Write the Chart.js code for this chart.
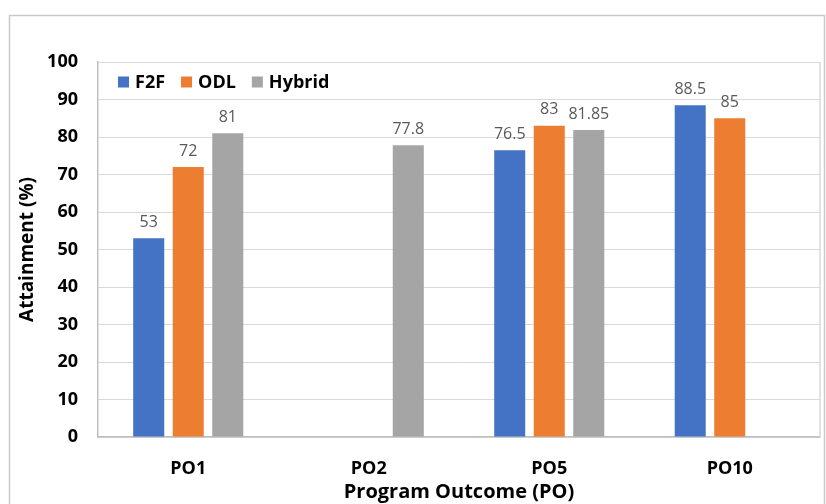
<!DOCTYPE html>
<html>
<head>
<meta charset="utf-8">
<script src="https://cdn.jsdelivr.net/npm/chart.js@4.4.1/dist/chart.umd.min.js"></script>
<style>
  body { margin: 0; background: #fff; }
</style>
</head>
<body>
<canvas id="chart" width="826" height="504"></canvas>
<script>
// -------------------- DATA --------------------
const categories = ["PO1", "PO2", "PO5", "PO10"];
const f2fValues = [53, null, 76.5, 88.5];
const odlValues = [72, null, 83, 85];
const hybridValues = [81, 77.8, 81.85, null];
const yTicks = [0, 10, 20, 30, 40, 50, 60, 70, 80, 90, 100];

const FONT = "'Open Sans', 'Noto Sans', sans-serif";

// outer frame + right border of the plot area
const frame = {
  id: "frame",
  beforeDraw(chart) {
    const { ctx } = chart;
    ctx.save();
    ctx.fillStyle = "#fff";
    ctx.fillRect(0, 0, chart.width, chart.height);
    ctx.strokeStyle = "#c9c9c9";
    ctx.lineWidth = 1.5;
    ctx.strokeRect(9.5, 15.5, 815, 600);
    ctx.restore();
  },
  beforeDatasetsDraw(chart) {
    const { ctx, chartArea: a } = chart;
    ctx.save();
    ctx.strokeStyle = "#d9d9d9";
    ctx.lineWidth = 1.5;
    ctx.beginPath();
    ctx.moveTo(a.right, a.top);
    ctx.lineTo(a.right, a.bottom);
    ctx.stroke();
    ctx.restore();
  },
};

// value labels above each bar
const barLabels = {
  id: "barLabels",
  afterDatasetsDraw(chart) {
    const { ctx } = chart;
    ctx.save();
    ctx.font = `16px ${FONT}`;
    ctx.fillStyle = "#595959";
    ctx.textAlign = "center";
    ctx.textBaseline = "bottom";
    chart.data.datasets.forEach((ds, i) => {
      chart.getDatasetMeta(i).data.forEach((bar, j) => {
        const v = ds.data[j];
        if (v == null) return;
        ctx.fillText(String(v), bar.x, bar.y - 8);
      });
    });
    ctx.restore();
  },
};

// legend inside the plot area, top left
const insideLegend = {
  id: "insideLegend",
  afterDraw(chart) {
    const { ctx, chartArea: a } = chart;
    const box = 11;
    let x = a.left + 20;
    const y = a.top + 20;
    ctx.save();
    ctx.font = `bold 18px ${FONT}`;
    ctx.textBaseline = "middle";
    ctx.textAlign = "left";
    chart.data.datasets.forEach((ds) => {
      ctx.fillStyle = ds.backgroundColor;
      ctx.fillRect(x, y - box / 2, box, box);
      ctx.fillStyle = "#000";
      ctx.fillText(ds.label, x + box + 6, y + 1);
      x += box + 6 + ctx.measureText(ds.label).width + 16;
    });
    ctx.restore();
  },
};

const ctx = document.getElementById("chart").getContext("2d");
new Chart(ctx, {
  type: "bar",
  data: {
    labels: categories,
    datasets: [
      { label: "F2F", data: f2fValues, backgroundColor: "#4472C4" },
      { label: "ODL", data: odlValues, backgroundColor: "#ED7D31" },
      { label: "Hybrid", data: hybridValues, backgroundColor: "#A5A5A5" },
    ],
  },
  options: {
    responsive: false,
    animation: false,
    categoryPercentage: 0.657,
    barPercentage: 0.785,
    layout: { padding: { left: 0, top: 62, right: 6, bottom: 0 } },
    plugins: {
      legend: { display: false },
      tooltip: { enabled: false },
    },
    scales: {
      x: {
        grid: { display: false },
        border: { color: "#bfbfbf", width: 1.5 },
        ticks: { color: "#000", padding: 13, font: { family: FONT, size: 18, weight: "bold" } },
        title: {
          display: true,
          text: "Program Outcome (PO)",
          color: "#000",
          padding: { top: 0, bottom: 0 },
          font: { family: FONT, size: 20, weight: "bold" },
        },
        afterFit(scale) { scale.height = 67; },
      },
      y: {
        min: 0,
        max: 100,
        afterBuildTicks(scale) { scale.ticks = yTicks.map((v) => ({ value: v })); },
        grid: { color: "#d9d9d9", drawTicks: false },
        border: { color: "#bfbfbf", width: 1.5 },
        ticks: { color: "#000", padding: 20, font: { family: FONT, size: 18, weight: "bold" } },
        title: {
          display: true,
          text: "Attainment (%)",
          color: "#000",
          padding: { top: 16, bottom: 0 },
          font: { family: FONT, size: 19, weight: "bold" },
        },
        afterFit(scale) { scale.width = 98; },
      },
    },
  },
  plugins: [frame, barLabels, insideLegend],
});
</script>
</body>
</html>
